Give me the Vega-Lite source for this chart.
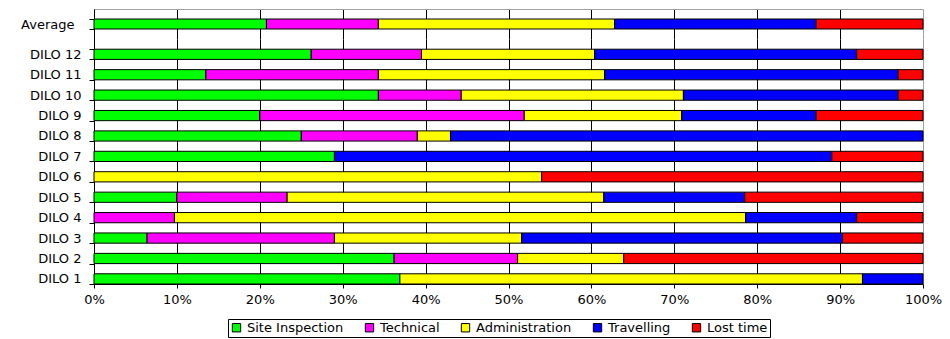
{
  "$schema": "https://vega.github.io/schema/vega-lite/v6.json",
  "padding": {"left": 20, "top": 3, "right": 5, "bottom": 0},
  "spacing": -6,
  "background": "white",
  "config": {
    "view": {"stroke": null},
    "font": "DejaVu Sans",
    "axis": {"labelFont": "DejaVu Sans", "labelFontSize": 13, "labelColor": "#000"},
    "legend": {"labelFont": "DejaVu Sans", "labelFontSize": 13, "labelColor": "#000"}
  },
  "data": {
    "values": [
      {"DILO": "Average", "activity": "Site Inspection", "pct": 20.8},
      {"DILO": "Average", "activity": "Technical", "pct": 13.5},
      {"DILO": "Average", "activity": "Administration", "pct": 28.5},
      {"DILO": "Average", "activity": "Travelling", "pct": 24.3},
      {"DILO": "Average", "activity": "Lost time", "pct": 12.9},
      {"DILO": "DILO 12", "activity": "Site Inspection", "pct": 26.2},
      {"DILO": "DILO 12", "activity": "Technical", "pct": 13.3},
      {"DILO": "DILO 12", "activity": "Administration", "pct": 20.9},
      {"DILO": "DILO 12", "activity": "Travelling", "pct": 31.6},
      {"DILO": "DILO 12", "activity": "Lost time", "pct": 8.0},
      {"DILO": "DILO 11", "activity": "Site Inspection", "pct": 13.5},
      {"DILO": "DILO 11", "activity": "Technical", "pct": 20.8},
      {"DILO": "DILO 11", "activity": "Administration", "pct": 27.3},
      {"DILO": "DILO 11", "activity": "Travelling", "pct": 35.4},
      {"DILO": "DILO 11", "activity": "Lost time", "pct": 3.0},
      {"DILO": "DILO 10", "activity": "Site Inspection", "pct": 34.3},
      {"DILO": "DILO 10", "activity": "Technical", "pct": 10.0},
      {"DILO": "DILO 10", "activity": "Administration", "pct": 26.8},
      {"DILO": "DILO 10", "activity": "Travelling", "pct": 25.9},
      {"DILO": "DILO 10", "activity": "Lost time", "pct": 3.0},
      {"DILO": "DILO 9", "activity": "Site Inspection", "pct": 20.0},
      {"DILO": "DILO 9", "activity": "Technical", "pct": 31.9},
      {"DILO": "DILO 9", "activity": "Administration", "pct": 19.0},
      {"DILO": "DILO 9", "activity": "Travelling", "pct": 16.2},
      {"DILO": "DILO 9", "activity": "Lost time", "pct": 12.9},
      {"DILO": "DILO 8", "activity": "Site Inspection", "pct": 25.0},
      {"DILO": "DILO 8", "activity": "Technical", "pct": 14.0},
      {"DILO": "DILO 8", "activity": "Administration", "pct": 4.0},
      {"DILO": "DILO 8", "activity": "Travelling", "pct": 57.0},
      {"DILO": "DILO 7", "activity": "Site Inspection", "pct": 29.0},
      {"DILO": "DILO 7", "activity": "Travelling", "pct": 60.0},
      {"DILO": "DILO 7", "activity": "Lost time", "pct": 11.0},
      {"DILO": "DILO 6", "activity": "Administration", "pct": 54.0},
      {"DILO": "DILO 6", "activity": "Lost time", "pct": 46.0},
      {"DILO": "DILO 5", "activity": "Site Inspection", "pct": 10.0},
      {"DILO": "DILO 5", "activity": "Technical", "pct": 13.3},
      {"DILO": "DILO 5", "activity": "Administration", "pct": 38.2},
      {"DILO": "DILO 5", "activity": "Travelling", "pct": 17.0},
      {"DILO": "DILO 5", "activity": "Lost time", "pct": 21.5},
      {"DILO": "DILO 4", "activity": "Technical", "pct": 9.7},
      {"DILO": "DILO 4", "activity": "Administration", "pct": 68.9},
      {"DILO": "DILO 4", "activity": "Travelling", "pct": 13.4},
      {"DILO": "DILO 4", "activity": "Lost time", "pct": 8.0},
      {"DILO": "DILO 3", "activity": "Site Inspection", "pct": 6.4},
      {"DILO": "DILO 3", "activity": "Technical", "pct": 22.6},
      {"DILO": "DILO 3", "activity": "Administration", "pct": 22.6},
      {"DILO": "DILO 3", "activity": "Travelling", "pct": 38.7},
      {"DILO": "DILO 3", "activity": "Lost time", "pct": 9.7},
      {"DILO": "DILO 2", "activity": "Site Inspection", "pct": 36.2},
      {"DILO": "DILO 2", "activity": "Technical", "pct": 14.9},
      {"DILO": "DILO 2", "activity": "Administration", "pct": 12.8},
      {"DILO": "DILO 2", "activity": "Lost time", "pct": 36.1},
      {"DILO": "DILO 1", "activity": "Site Inspection", "pct": 36.9},
      {"DILO": "DILO 1", "activity": "Administration", "pct": 55.8},
      {"DILO": "DILO 1", "activity": "Travelling", "pct": 7.3}
    ]
  },
  "transform": [
    {"calculate": "indexof(['Site Inspection', 'Technical', 'Administration', 'Travelling', 'Lost time'], datum.activity)", "as": "stackOrder"}
  ],
  "vconcat": [
    {
      "width": 829,
      "height": 30,
      "transform": [{"filter": "datum.DILO === 'Average'"}],
      "mark": {"type": "bar", "stroke": "#000", "strokeWidth": 1},
      "encoding": {
        "y": {
          "field": "DILO", "type": "nominal",
          "scale": {"paddingInner": 0.5, "paddingOuter": 0.5},
          "axis": {"title": null, "domainColor": "#000", "tickColor": "#000", "tickSize": 5, "tickBand": "extent", "labelPadding": 15, "grid": false}
        },
        "x": {
          "field": "pct", "type": "quantitative", "stack": "normalize",
          "scale": {"domain": [0, 1], "nice": false},
          "axis": {"orient": "top", "title": null, "labels": false, "ticks": false, "domainColor": "#a0a0a0", "values": [0, 0.1, 0.2, 0.3, 0.4, 0.5, 0.6, 0.7, 0.8, 0.9, 1],
            "grid": true, "gridColor": {"condition": {"test": "datum.value === 1", "value": "#a0a0a0"}, "value": "#000"}, "gridOpacity": 1, "gridWidth": 1}
        },
        "order": {"field": "stackOrder", "type": "quantitative"},
        "color": {
          "field": "activity", "type": "nominal",
          "scale": {"domain": ["Site Inspection", "Technical", "Administration", "Travelling", "Lost time"], "range": ["#00ff00", "#ff00ff", "#ffff00", "#0000ff", "#ff0000"]},
          "legend": {"title": null, "orient": "none", "direction": "horizontal", "legendX": 134, "legendY": 310, "strokeColor": "#000", "padding": 2, "symbolType": "square", "symbolSize": 70, "symbolStrokeColor": "#000", "symbolStrokeWidth": 1, "labelOffset": 4, "columnPadding": 19, "cornerRadius": 0}
        }
      }
    },
    {
      "width": 829,
      "height": 245,
      "transform": [{"filter": "datum.DILO !== 'Average'"}],
      "mark": {"type": "bar", "stroke": "#000", "strokeWidth": 1},
      "encoding": {
        "y": {
          "field": "DILO", "type": "nominal",
          "sort": ["DILO 12", "DILO 11", "DILO 10", "DILO 9", "DILO 8", "DILO 7", "DILO 6", "DILO 5", "DILO 4", "DILO 3", "DILO 2", "DILO 1"],
          "scale": {"paddingInner": 0.5, "paddingOuter": 0.25, "align": 1},
          "axis": {"title": null, "domainColor": "#000", "tickColor": "#000", "tickSize": 5, "tickBand": "extent", "labelPadding": 8, "grid": false}
        },
        "x": {
          "field": "pct", "type": "quantitative", "stack": "normalize",
          "scale": {"domain": [0, 1], "nice": false},
          "axis": {"title": null, "format": ".0%", "labelFlush": false, "values": [0, 0.1, 0.2, 0.3, 0.4, 0.5, 0.6, 0.7, 0.8, 0.9, 1], "domainColor": "#000", "tickColor": "#000", "tickSize": 4, "labelPadding": 5,
            "grid": true, "gridColor": {"condition": {"test": "datum.value === 1", "value": "#a0a0a0"}, "value": "#000"}, "gridOpacity": 1, "gridWidth": 1}
        },
        "order": {"field": "stackOrder", "type": "quantitative"},
        "color": {
          "field": "activity", "type": "nominal",
          "scale": {"domain": ["Site Inspection", "Technical", "Administration", "Travelling", "Lost time"], "range": ["#00ff00", "#ff00ff", "#ffff00", "#0000ff", "#ff0000"]}
        }
      }
    }
  ],
  "resolve": {"scale": {"color": "shared"}}
}
